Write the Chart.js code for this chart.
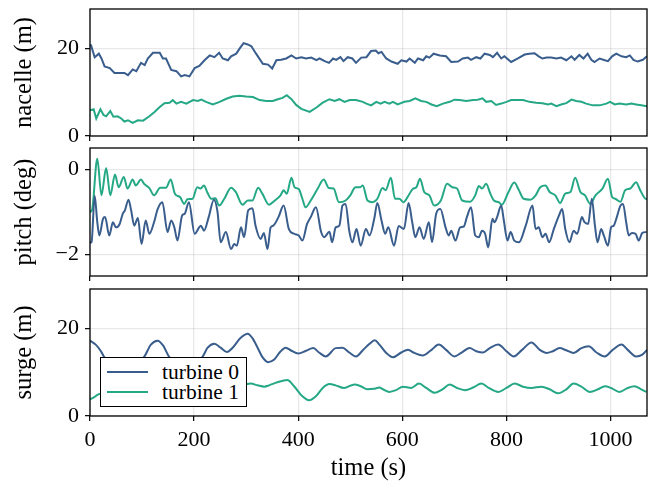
<!DOCTYPE html>
<html>
<head>
<meta charset="utf-8">
<script src="https://cdn.jsdelivr.net/npm/chart.js@4"></script>
<style>
  body { margin: 0; background: #fff; }
  #wrap { position: relative; width: 662px; height: 487px; font-family: 'Liberation Serif', 'DejaVu Serif', serif; }
  canvas { position: absolute; left: 0; }
  #legend { position: absolute; left: 100px; top: 357px; width: 147px; height: 50px; border: 1.3px solid #000; background: #fff; box-sizing: border-box; }
  #legend .row { position: absolute; left: 0; height: 20px; font-size: 21.5px; line-height: 20px; }
  #legend .swatch { position: absolute; left: 6px; top: 9px; width: 41px; height: 2px; }
  #legend .txt { position: absolute; left: 61px; top: 0; white-space: nowrap; }
</style>
</head>
<body>
<div id="wrap">
  <canvas id="c1" width="662" height="142" style="top:0"></canvas>
  <canvas id="c2" width="662" height="140" style="top:142px"></canvas>
  <canvas id="c3" width="662" height="205" style="top:282px"></canvas>
  <div id="legend"></div>
</div>
<script>
// ---- data ----
const seriesNames = ['turbine 0', 'turbine 1'];
const seriesColors = ['#395d8c', '#25a885'];

const xTicks = [0, 200, 400, 600, 800, 1000];
const xMax = 1070;

// nacelle (m)
const nacelleT0 = [0, 2, 9, 17, 22, 28, 38, 47, 57, 66, 73, 82, 89, 98, 105, 111, 121, 134, 140, 146, 156, 166, 175, 182, 191, 201, 210, 220, 230, 239, 248, 255, 265, 271, 281, 287, 295, 303, 310, 319, 332, 342, 350, 358, 367, 377, 387, 396, 406, 415, 425, 435, 441, 451, 459, 467, 473, 481, 487, 495, 504, 511, 521, 531, 540, 549, 554, 560, 569, 579, 591, 598, 608, 614, 624, 630, 640, 646, 652, 660, 672, 684, 694, 707, 716, 726, 732, 742, 750, 758, 768, 774, 782, 790, 796, 809, 822, 835, 844, 854, 862, 869, 877, 886, 896, 905, 915, 925, 931, 940, 948, 956, 963, 969, 979, 989, 995, 1003, 1011, 1021, 1030, 1037, 1044, 1052, 1062, 1070];
const nacelleV0 = [20.8, 20.7, 18.0, 18.8, 17.7, 15.9, 15.5, 14.4, 14.4, 14.4, 13.9, 15.2, 14.8, 16.7, 16.2, 17.7, 19.0, 19.0, 17.7, 17.7, 15.1, 14.8, 13.6, 13.9, 13.6, 15.5, 16.0, 17.3, 18.4, 18.0, 19.0, 17.7, 17.3, 18.2, 18.8, 19.9, 21.2, 20.9, 20.5, 18.8, 16.5, 16.3, 15.4, 17.3, 17.4, 17.7, 18.4, 17.7, 18.0, 17.7, 17.9, 17.3, 17.7, 17.1, 16.7, 17.7, 17.4, 18.0, 17.1, 18.0, 17.7, 16.7, 17.9, 18.0, 19.4, 19.5, 18.9, 19.2, 17.7, 17.0, 16.5, 17.3, 17.0, 17.7, 16.7, 17.7, 17.3, 18.2, 17.9, 18.8, 18.4, 18.2, 16.9, 17.0, 17.7, 17.9, 17.4, 18.0, 17.7, 18.8, 18.5, 18.0, 19.0, 17.7, 18.2, 16.9, 17.7, 18.6, 18.8, 18.9, 18.2, 17.7, 17.9, 17.9, 17.7, 17.9, 17.3, 18.2, 17.4, 18.5, 17.7, 18.8, 17.4, 16.9, 17.7, 17.3, 17.1, 18.2, 18.8, 18.2, 18.0, 18.4, 17.4, 17.0, 17.4, 18.2];
const nacelleT1 = [0, 7, 12, 20, 26, 31, 39, 45, 53, 60, 66, 73, 82, 92, 102, 114, 124, 134, 143, 153, 159, 166, 175, 185, 198, 207, 214, 223, 236, 249, 262, 274, 287, 300, 313, 326, 339, 351, 361, 370, 378, 387, 396, 406, 422, 435, 447, 460, 470, 479, 489, 499, 511, 524, 531, 540, 550, 558, 566, 575, 582, 591, 604, 614, 625, 636, 646, 656, 666, 678, 691, 700, 710, 723, 736, 745, 754, 761, 771, 780, 790, 800, 809, 822, 832, 844, 857, 869, 880, 886, 896, 905, 915, 925, 934, 944, 953, 966, 979, 992, 999, 1008, 1017, 1030, 1040, 1049, 1059, 1070];
const nacelleV1 = [5.9, 6.1, 4.0, 6.1, 4.8, 4.5, 5.7, 4.4, 4.5, 4.0, 3.3, 3.6, 3.0, 3.6, 3.5, 4.5, 5.5, 6.6, 7.5, 7.6, 8.2, 7.4, 7.8, 7.4, 8.2, 8.0, 8.3, 7.8, 7.2, 7.8, 8.5, 9.0, 9.2, 9.0, 8.9, 8.2, 8.0, 8.0, 8.4, 8.7, 9.3, 8.4, 7.1, 6.2, 5.5, 6.5, 7.6, 8.4, 8.0, 8.4, 7.8, 8.2, 8.2, 7.8, 7.4, 7.0, 7.8, 7.4, 7.8, 7.4, 7.8, 7.2, 7.8, 8.0, 8.6, 8.0, 7.8, 7.2, 6.8, 7.4, 7.8, 8.3, 8.2, 8.0, 8.2, 8.3, 8.6, 7.8, 8.0, 7.1, 7.4, 7.8, 8.2, 8.2, 8.2, 7.8, 7.6, 7.5, 7.2, 7.4, 6.8, 7.2, 7.5, 8.3, 8.0, 7.8, 7.4, 7.0, 7.0, 7.4, 7.8, 7.2, 7.4, 7.2, 7.4, 7.2, 7.0, 6.8];

// pitch (deg)
const pitchT0 = [0, 3, 9, 14, 18, 25, 29, 37, 44, 50, 57, 63, 67, 74, 79, 85, 92, 99, 107, 114, 123, 130, 139, 149, 156, 162, 168, 177, 182, 190, 201, 213, 219, 228, 238, 245, 251, 261, 271, 277, 282, 290, 296, 304, 312, 318, 328, 334, 341, 347, 352, 362, 372, 382, 392, 401, 408, 417, 424, 434, 444, 450, 460, 465, 472, 479, 485, 491, 498, 504, 512, 520, 530, 537, 546, 552, 560, 567, 573, 584, 593, 603, 612, 619, 625, 633, 641, 651, 657, 665, 673, 683, 689, 694, 702, 711, 718, 724, 732, 740, 747, 753, 759, 765, 773, 777, 782, 790, 795, 802, 808, 815, 824, 837, 850, 856, 862, 869, 875, 882, 891, 901, 907, 913, 921, 929, 936, 945, 950, 957, 964, 970, 975, 982, 987, 995, 1001, 1006, 1011, 1019, 1024, 1030, 1035, 1041, 1048, 1054, 1061, 1069];
const pitchV0 = [-1.72, -1.70, -0.62, -1.24, -1.55, -1.16, -1.12, -1.55, -1.24, -1.36, -1.28, -1.04, -0.96, -0.71, -0.96, -1.32, -1.14, -1.75, -1.20, -1.51, -1.24, -0.93, -0.77, -1.47, -1.20, -1.36, -1.67, -1.08, -1.04, -0.77, -1.51, -1.32, -1.44, -1.12, -0.71, -1.00, -1.71, -1.47, -1.87, -1.75, -1.79, -1.36, -1.59, -0.96, -0.91, -1.32, -1.63, -1.49, -1.87, -1.36, -1.32, -1.12, -0.85, -1.40, -1.51, -1.55, -1.67, -1.28, -1.12, -0.89, -1.47, -1.59, -1.46, -1.71, -1.36, -1.32, -0.85, -0.81, -1.44, -1.71, -1.40, -1.79, -1.40, -1.55, -1.16, -0.79, -1.20, -1.51, -1.36, -1.79, -1.33, -1.40, -0.79, -1.24, -1.59, -1.36, -1.63, -1.24, -1.71, -1.04, -0.93, -1.36, -1.55, -1.44, -1.67, -1.36, -1.34, -1.12, -0.89, -1.55, -1.59, -1.44, -1.51, -1.83, -1.16, -1.24, -1.12, -0.85, -1.20, -1.67, -1.47, -1.67, -1.71, -1.32, -0.85, -1.40, -1.36, -1.59, -1.51, -1.71, -1.40, -1.08, -0.93, -1.40, -1.71, -1.44, -1.51, -1.12, -1.24, -1.28, -0.69, -1.32, -1.71, -1.40, -1.55, -1.79, -1.36, -1.32, -1.16, -0.85, -0.81, -1.24, -1.55, -1.49, -1.51, -1.67, -1.49, -1.47];
const pitchT1 = [0, 4, 14, 22, 31, 39, 48, 55, 65, 72, 82, 88, 98, 104, 114, 123, 135, 146, 155, 163, 173, 181, 187, 197, 206, 212, 219, 225, 233, 241, 248, 258, 271, 280, 293, 303, 312, 323, 331, 344, 354, 366, 372, 378, 387, 393, 401, 408, 414, 424, 437, 449, 459, 468, 478, 491, 500, 510, 519, 524, 533, 543, 552, 562, 568, 578, 586, 594, 602, 610, 620, 627, 634, 642, 652, 661, 674, 686, 696, 705, 715, 730, 740, 747, 753, 761, 769, 776, 785, 791, 804, 815, 824, 833, 846, 856, 865, 875, 883, 894, 903, 913, 923, 932, 942, 951, 961, 971, 984, 995, 1003, 1009, 1019, 1028, 1038, 1049, 1057, 1066, 1070];
const pitchV1 = [-1.00, -0.95, 0.25, -0.61, 0.03, -0.61, -0.12, -0.42, -0.18, -0.45, -0.24, -0.38, -0.24, -0.34, -0.44, -0.61, -0.43, -0.43, -0.24, -0.57, -0.65, -0.81, -0.70, -0.69, -0.42, -0.45, -0.38, -0.53, -0.69, -0.68, -0.85, -0.69, -0.43, -0.53, -0.83, -0.73, -0.73, -0.43, -0.57, -0.83, -0.74, -0.61, -0.49, -0.57, -0.20, -0.42, -0.46, -0.69, -0.89, -0.73, -0.46, -0.24, -0.44, -0.45, -0.77, -0.73, -0.61, -0.42, -0.42, -0.38, -0.73, -0.77, -0.69, -0.44, -0.49, -0.20, -0.69, -0.69, -0.77, -0.65, -0.46, -0.42, -0.22, -0.53, -0.61, -0.85, -0.73, -0.34, -0.42, -0.45, -0.73, -0.76, -0.61, -0.39, -0.45, -0.34, -0.57, -0.73, -0.77, -0.83, -0.53, -0.31, -0.49, -0.69, -0.71, -0.61, -0.42, -0.38, -0.53, -0.61, -0.79, -0.57, -0.53, -0.20, -0.53, -0.61, -0.81, -0.61, -0.46, -0.22, -0.65, -0.69, -0.76, -0.49, -0.45, -0.30, -0.49, -0.68, -0.70];

// surge (m)
const surgeT0 = [0, 11, 21, 27, 45, 65, 85, 104, 117, 130, 141, 152, 170, 185, 200, 216, 226, 239, 251, 263, 274, 289, 303, 312, 322, 331, 342, 354, 365, 376, 387, 400, 415, 429, 440, 453, 472, 485, 498, 511, 524, 537, 547, 556, 569, 582, 598, 611, 623, 639, 656, 670, 684, 700, 713, 729, 742, 755, 768, 784, 800, 814, 830, 848, 864, 877, 889, 902, 915, 929, 944, 958, 973, 989, 1004, 1021, 1033, 1049, 1061, 1070];
const surgeV0 = [17.2, 16.3, 14.8, 13.5, 11.8, 11.2, 12.0, 13.5, 16.3, 17.2, 16.0, 13.5, 11.8, 11.4, 12.5, 13.5, 15.6, 16.5, 15.6, 14.6, 15.6, 17.8, 18.8, 17.8, 15.6, 13.5, 12.3, 12.9, 14.6, 15.6, 14.9, 14.3, 14.9, 15.5, 14.5, 13.6, 15.5, 15.6, 14.5, 13.6, 15.0, 16.5, 17.3, 16.3, 14.4, 13.4, 14.5, 15.1, 14.4, 13.8, 15.1, 16.3, 15.1, 13.6, 14.4, 15.5, 14.8, 14.5, 15.5, 16.3, 14.8, 13.6, 15.1, 16.8, 15.1, 14.4, 14.8, 15.5, 15.0, 14.4, 15.5, 15.9, 14.5, 13.6, 15.1, 16.3, 15.1, 13.6, 14.0, 15.1];
const surgeT1 = [0, 8, 15, 40, 70, 100, 140, 180, 220, 260, 297, 309, 322, 335, 344, 360, 379, 392, 408, 421, 434, 447, 460, 472, 488, 508, 520, 533, 545, 556, 563, 575, 588, 601, 617, 632, 646, 662, 677, 691, 705, 720, 736, 752, 766, 784, 800, 816, 832, 848, 867, 883, 899, 915, 929, 944, 960, 976, 989, 1001, 1017, 1033, 1046, 1059, 1069];
const surgeV1 = [3.8, 4.3, 4.9, 5.8, 6.4, 6.8, 7.3, 7.0, 7.4, 7.0, 7.2, 7.4, 7.0, 6.7, 7.0, 7.7, 8.2, 6.8, 4.5, 3.6, 4.5, 6.4, 7.3, 7.0, 6.4, 7.2, 6.8, 6.1, 6.2, 6.5, 6.1, 5.5, 5.9, 6.7, 6.4, 7.4, 6.4, 5.3, 6.1, 7.2, 6.4, 5.9, 6.5, 7.4, 6.4, 5.5, 6.4, 7.4, 6.7, 6.4, 6.7, 6.1, 5.2, 6.1, 7.4, 6.7, 5.5, 6.1, 6.8, 6.4, 5.5, 6.4, 6.8, 6.1, 5.5];

// ---- drawing ----
const FONT = "'Liberation Serif', 'DejaVu Serif', serif";
Chart.defaults.font.family = FONT;
Chart.defaults.font.size = 22;
Chart.defaults.color = '#000';

const frame = {
  id: 'frame',
  afterDatasetsDraw(chart) {
    const { ctx, chartArea: a } = chart;
    ctx.save();
    ctx.strokeStyle = '#000';
    ctx.lineWidth = 1.3;
    ctx.strokeRect(a.left, a.top, a.right - a.left, a.bottom - a.top);
    ctx.restore();
  }
};

const minus = v => (v < 0 ? '\u2212' + Math.abs(v) : String(v));

function toPoints(ts, vs) {
  return ts.map((t, i) => ({ x: t, y: vs[i] }));
}

function panel(id, opt) {
  const grid = {
    color: 'rgba(0,0,0,0.09)',
    lineWidth: 1.3,
    drawTicks: true,
    tickLength: 5,
    tickColor: '#000',
    tickWidth: 1.2
  };
  return new Chart(document.getElementById(id), {
    type: 'line',
    data: {
      datasets: opt.series.map((s, i) => ({
        label: seriesNames[i],
        data: toPoints(s[0], s[1]),
        borderColor: seriesColors[i],
        borderWidth: 2,
        pointRadius: 0,
        cubicInterpolationMode: opt.smooth ? 'monotone' : 'default',
        tension: 0
      }))
    },
    options: {
      responsive: false,
      animation: false,
      layout: { padding: { top: opt.padTop, right: 15, left: 0, bottom: 0 } },
      plugins: { legend: { display: false }, tooltip: { enabled: false } },
      scales: {
        x: {
          type: 'linear',
          min: 0,
          max: xMax,
          afterBuildTicks: s => { s.ticks = xTicks.map(v => ({ value: v })); },
          afterFit: s => { s.height = opt.xHeight; s.paddingLeft = 0; s.paddingRight = 0; },
          grid: grid,
          border: { display: false },
          ticks: { display: opt.showX, padding: 6, maxRotation: 0, font: { size: 22 }, callback: v => String(v) },
          title: { display: opt.showX, text: 'time (s)', font: { size: 24.5 }, padding: { top: 0, bottom: 4 } }
        },
        y: {
          min: opt.yMin,
          max: opt.yMax,
          afterBuildTicks: s => { s.ticks = opt.yTicks.map(v => ({ value: v })); },
          afterFit: s => { s.width = 90; s.paddingTop = 0; s.paddingBottom = 0; },
          grid: grid,
          border: { display: false },
          ticks: { padding: 6, font: { size: 22 }, callback: minus },
          title: { display: true, text: opt.yTitle, font: { size: 24.5 }, padding: { top: 10, bottom: 0 } }
        }
      }
    },
    plugins: [frame]
  });
}

panel('c1', {
  series: [[nacelleT0, nacelleV0], [nacelleT1, nacelleV1]],
  yMin: 0, yMax: 29, yTicks: [0, 20], yTitle: 'nacelle (m)',
  padTop: 9, xHeight: 6, showX: false, smooth: false
});
panel('c2', {
  series: [[pitchT0, pitchV0], [pitchT1, pitchV1]],
  yMin: -2.5, yMax: 0.5, yTicks: [-2, 0], yTitle: 'pitch (deg)',
  padTop: 6, xHeight: 6, showX: false, smooth: true
});
panel('c3', {
  series: [[surgeT0, surgeV0], [surgeT1, surgeV1]],
  yMin: 0, yMax: 29, yTicks: [0, 20], yTitle: 'surge (m)',
  padTop: 7, xHeight: 71, showX: true, smooth: true
});

// legend box inside the surge panel
const legend = document.getElementById('legend');
seriesNames.forEach((name, i) => {
  const row = document.createElement('div');
  row.className = 'row';
  row.style.top = (4 + i * 20) + 'px';
  row.style.width = '100%';
  row.innerHTML = '<span class="swatch" style="background:' + seriesColors[i] + '"></span><span class="txt">' + name + '</span>';
  legend.appendChild(row);
});
</script>
</body>
</html>
